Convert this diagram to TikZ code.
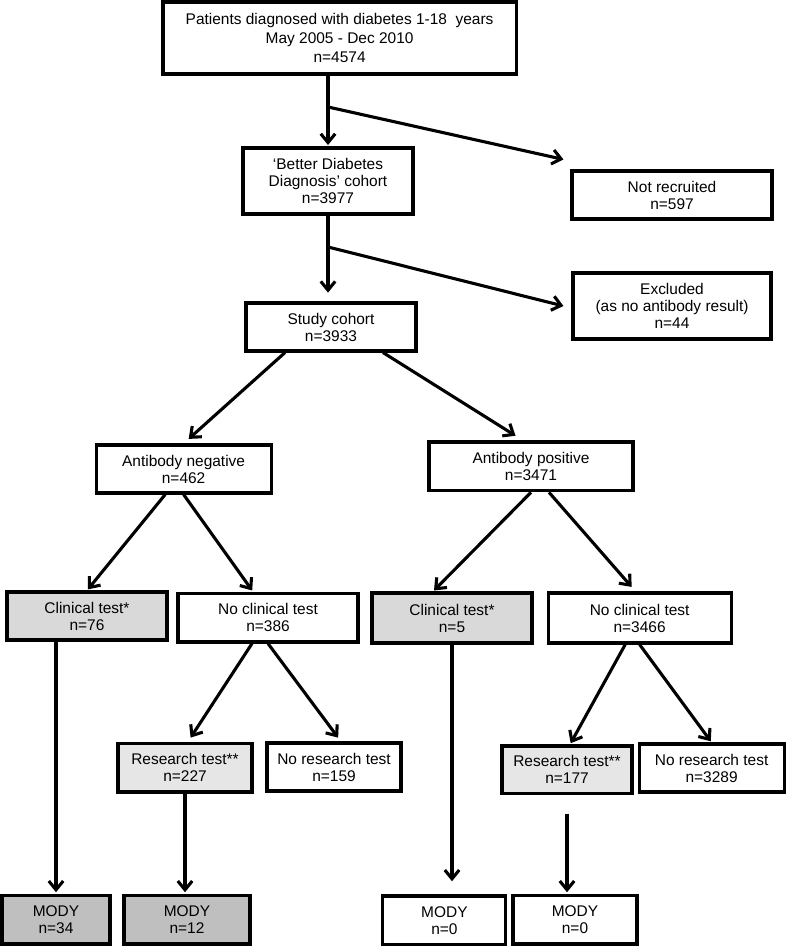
\documentclass[tikz,border=0pt]{standalone}
\usepackage{fontspec}
\setmainfont{Liberation Sans}
\usetikzlibrary{arrows.meta}
\definecolor{clingray}{HTML}{D9D9D9}
\definecolor{resgray}{HTML}{E6E6E6}
\definecolor{modygray}{HTML}{BFBFBF}
\begin{document}
\begin{tikzpicture}[>={Straight Barb[length=2.2mm,width=3.6mm]}, line width=2.2pt,
        every node/.style={font=\fontsize{11}{12.1}\selectfont},
        flowbox/.style={draw, align=center, inner sep=0pt, fill=white}]
        \useasboundingbox (0,0) rectangle (19.625,23.65);

        \node[flowbox, minimum width=8.83cm, minimum height=1.8cm] (top) at (8.49,22.7) {Patients diagnosed with diabetes 1-18\ \ years\\[0.06cm]May 2005 - Dec 2010\\[0.06cm]n=4574};
        \node[flowbox, minimum width=4.25cm, minimum height=1.65cm] (bdd) at (8.2,19.125) {‘Better Diabetes\\Diagnosis’ cohort\\n=3977};
        \node[flowbox, minimum width=5cm, minimum height=1.2cm] (notrec) at (16.8,18.775) {Not recruited\\n=597};
        \node[flowbox, minimum width=4.95cm, minimum height=1.65cm] (excl) at (16.8,16) {Excluded\\(as no antibody result)\\n=44};
        \node[flowbox, minimum width=4.25cm, minimum height=1.2cm] (study) at (8.275,15.475) {Study cohort\\n=3933};
        \coordinate (b1) at (8.2,20.975);
        \coordinate (b2) at (8.2,17.475);
        \draw[->, shorten >=1pt] (top.south -| bdd.north) -- (bdd.north);
        \draw[->] (b1) -- ([xshift=-0.175cm,yshift=0.25cm]notrec.north west);
        \draw[->, shorten >=0.22cm] (bdd.south) -- (bdd.south |- study.north);
        \draw[->] (b2) -- ([xshift=-0.2cm]excl.west);

        \node[flowbox, minimum width=4.375cm, minimum height=1.2cm] (abneg) at (4.59,11.925) {Antibody negative\\n=462};
        \node[flowbox, minimum width=5.1cm, minimum height=1.22cm] (abpos) at (13.275,11.99) {Antibody positive\\n=3471};
        \draw[->, shorten >=0.17cm] ([xshift=-1.15cm]study.south) -- (abneg.north);
        \draw[->, shorten >=0.22cm] ([xshift=1.3cm]study.south) -- ([xshift=-0.2cm]abpos.north);

        \node[flowbox, fill=clingray, minimum width=4cm, minimum height=1.2cm] (clinL) at (2.175,8.25) {Clinical test*\\n=76};
        \node[flowbox, minimum width=4.5cm, minimum height=1.22cm] (noclinL) at (6.7,8.21) {No clinical test\\n=386};
        \node[flowbox, fill=clingray, minimum width=4cm, minimum height=1.25cm] (clinR) at (11.3,8.2) {Clinical test*\\n=5};
        \node[flowbox, minimum width=4.575cm, minimum height=1.25cm] (noclinR) at (15.99,8.2) {No clinical test\\n=3466};
        \draw[->, shorten >=1pt] ([xshift=-0.46cm]abneg.south) -- (clinL.north);
        \draw[->, shorten >=1pt] (abneg.south) -- ([xshift=-0.375cm]noclinL.north);
        \draw[->, shorten >=1pt] (abpos.south) -- ([xshift=-0.475cm]clinR.north);
        \draw[->, shorten >=0.15cm] ([xshift=0.45cm]abpos.south) -- ([xshift=-0.1cm]noclinR.north);

        \node[flowbox, fill=resgray, minimum width=3.35cm, minimum height=1.22cm] (resL) at (4.625,4.46) {Research test**\\n=227};
        \node[flowbox, minimum width=3.35cm, minimum height=1.2cm] (noresL) at (8.35,4.475) {No research test\\n=159};
        \node[flowbox, fill=resgray, minimum width=3.25cm, minimum height=1.18cm] (resR) at (14.175,4.41) {Research test**\\n=177};
        \node[flowbox, minimum width=3.625cm, minimum height=1.2cm] (noresR) at (17.79,4.45) {No research test\\n=3289};
        \draw[->, shorten >=0.12cm] ([xshift=-0.4cm]noclinL.south) -- ([xshift=0.075cm]resL.north);
        \draw[->, shorten >=0.12cm] (noclinL.south) -- ([xshift=0.175cm]noresL.north);
        \draw[->, shorten >=1pt] ([xshift=-0.36cm]noclinR.south) -- ([xshift=0.075cm]resR.north);
        \draw[->, shorten >=1pt] (noclinR.south) -- (noresR.north);

        \node[flowbox, fill=modygray, minimum width=2.7cm, minimum height=1.22cm] (mody34) at (1.4,0.66) {MODY\\n=34};
        \node[flowbox, fill=modygray, minimum width=3.15cm, minimum height=1.22cm] (mody12) at (4.675,0.66) {MODY\\n=12};
        \node[flowbox, minimum width=3.075cm, minimum height=1.22cm] (modyA) at (11.11,0.64) {MODY\\n=0};
        \node[flowbox, minimum width=3.1cm, minimum height=1.22cm] (modyB) at (14.375,0.66) {MODY\\n=0};
        \draw[->, shorten >=1pt] (clinL.south -| mody34.north) -- (mody34.north);
        \draw[->, shorten >=1pt] (resL.south) -- (resL.south |- mody12.north);
        \draw[->, shorten >=0.33cm] (clinR.south) -- (clinR.south |- modyA.north);
        \draw[->, shorten <=0.475cm, shorten >=1pt] (resR.south) -- (resR.south |- modyB.north);
    \end{tikzpicture}
\end{document}
